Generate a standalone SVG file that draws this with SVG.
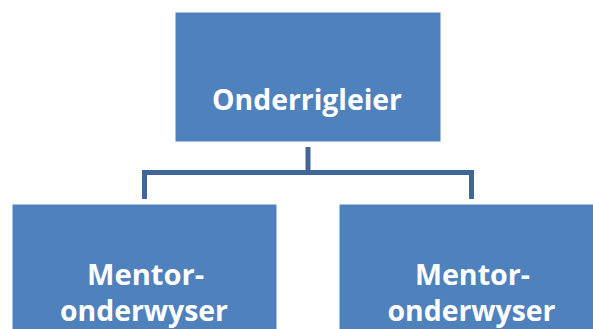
<svg xmlns="http://www.w3.org/2000/svg" width="593" height="329" viewBox="0 0 593 329">
<style>
.box{fill:#4F81BD;stroke:#FFFFFF;stroke-width:1}
.lbl{font-family:"Open Sans","Noto Sans","Liberation Sans",sans-serif;font-weight:bold;fill:#FFFFFF;text-anchor:middle;font-size:28px}
.conn{fill:none;stroke:#3F6697;stroke-width:5;stroke-linejoin:miter}
</style>
<rect width="593" height="329" fill="#FFFFFF"/>
<g id="connectors">
<path class="conn" d="M308,147 V172.5 M144.5,199 V172.5 H471.5 V199"/>
</g>
<g id="node-top">
<rect class="box" x="175" y="12" width="266" height="130"/>
<text class="lbl" x="307" y="110" textLength="190" lengthAdjust="spacingAndGlyphs">Onderrigleier</text>
</g>
<g id="node-left">
<rect class="box" x="12" y="204" width="265" height="140"/>
<text class="lbl" x="145.5" y="285" textLength="117" lengthAdjust="spacingAndGlyphs">Mentor-</text>
<text class="lbl" x="144" y="321" textLength="168" lengthAdjust="spacingAndGlyphs">onderwyser</text>
</g>
<g id="node-right">
<rect class="box" x="339" y="204" width="265" height="140"/>
<text class="lbl" x="472.5" y="285" textLength="115" lengthAdjust="spacingAndGlyphs">Mentor-</text>
<text class="lbl" x="471.5" y="321" textLength="168" lengthAdjust="spacingAndGlyphs">onderwyser</text>
</g>
</svg>
